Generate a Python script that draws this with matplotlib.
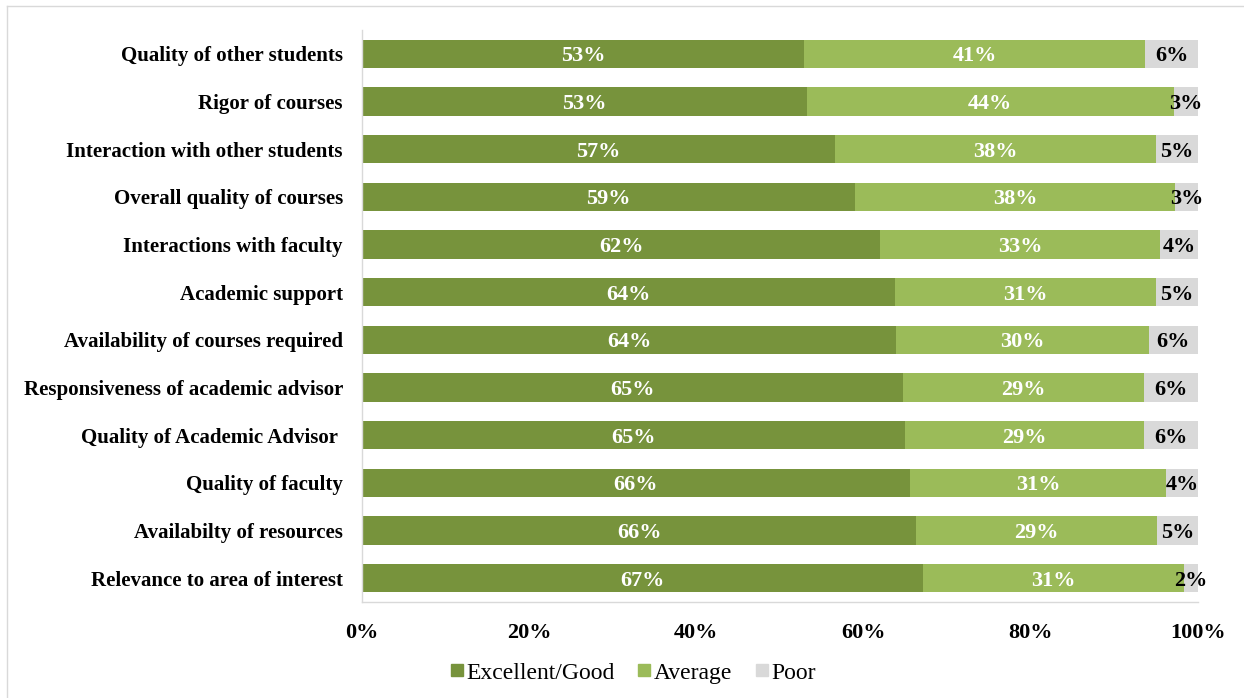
import matplotlib
matplotlib.use("Agg")
import matplotlib.pyplot as plt
from matplotlib.lines import Line2D
import numpy as np

categories = [
    "Relevance to area of interest",
    "Availabilty of resources",
    "Quality of faculty",
    "Quality of Academic Advisor ",
    "Responsiveness of academic advisor",
    "Availability of courses required",
    "Academic support",
    "Interactions with faculty",
    "Overall quality of courses",
    "Interaction with other students",
    "Rigor of courses",
    "Quality of other students",
]
excellent = [67.1, 66.3, 65.5, 64.9, 64.7, 63.9, 63.8, 62.0, 59.0, 56.6, 53.2, 52.9]
average = [31.2, 28.8, 30.7, 28.7, 28.9, 30.2, 31.2, 33.5, 38.3, 38.4, 43.9, 40.8]
poor = [1.7, 4.9, 3.8, 6.4, 6.4, 5.9, 5.0, 4.5, 2.7, 5.0, 2.9, 6.3]
excellent_lbl = ["67%", "66%", "66%", "65%", "65%", "64%", "64%", "62%", "59%", "57%", "53%", "53%"]
average_lbl = ["31%", "29%", "31%", "29%", "29%", "30%", "31%", "33%", "38%", "38%", "44%", "41%"]
poor_lbl = ["2%", "5%", "4%", "6%", "6%", "6%", "5%", "4%", "3%", "5%", "3%", "6%"]
series_names = ["Excellent/Good", "Average", "Poor"]
xticks = [0, 20, 40, 60, 80, 100]

colors = ["#77933C", "#9BBB59", "#D9D9D9"]
text_colors = ["white", "white", "black"]
serif = ["Liberation Serif", "DejaVu Serif"]
plt.rcParams["font.family"] = serif

fig = plt.figure(figsize=(12.44, 6.98), dpi=100)
ax = fig.add_axes([362 / 1244, 1 - 602 / 698, (1198 - 362) / 1244, (602 - 30) / 698])

y = np.arange(len(categories))
left = np.zeros(len(categories))
for vals, lbls, col, tcol, name in zip([excellent, average, poor],
                                      [excellent_lbl, average_lbl, poor_lbl],
                                      colors, text_colors, series_names):
    vals = np.array(vals)
    ax.barh(y, vals, left=left, height=0.59, color=col, label=name)
    for yi, l, v, t in zip(y, left, vals, lbls):
        ax.text(l + v / 2, yi, t, ha="center", va="center_baseline", color=tcol,
                fontsize=16, fontweight="bold")
    left = left + vals

ax.set_xlim(0, 100)
ax.set_ylim(-0.5, len(categories) - 0.5)
ax.set_yticks(y)
ax.set_yticklabels(categories, fontsize=15, fontweight="bold")
ax.set_xticks(xticks)
ax.set_xticklabels([f"{t}%" for t in xticks], fontsize=16, fontweight="bold")
ax.tick_params(axis="both", length=0)
ax.tick_params(axis="y", pad=13.7)
ax.tick_params(axis="x", pad=15)
for s in ["top", "right"]:
    ax.spines[s].set_visible(False)
for s in ["left", "bottom"]:
    ax.spines[s].set_color("#D9D9D9")
    ax.spines[s].set_linewidth(1.0)

handles = [Line2D([], [], marker="s", linestyle="none", markersize=8.3,
                  markerfacecolor=c, markeredgecolor=c) for c in colors]
fig.legend(handles, series_names, loc="center", bbox_to_anchor=(0.509, 0.036),
           ncol=3, frameon=False, fontsize=17, handletextpad=0.15,
           columnspacing=1.0, handlelength=0.5)

# outer chart border (top and left visible)
fig.add_artist(Line2D([7 / 1244, 7 / 1244], [0, 1 - 6 / 698], transform=fig.transFigure,
                      color="#D9D9D9", linewidth=1.0))
fig.add_artist(Line2D([7 / 1244, 1], [1 - 6 / 698, 1 - 6 / 698], transform=fig.transFigure,
                      color="#D9D9D9", linewidth=1.0))

fig.savefig("out.png", dpi=100)
